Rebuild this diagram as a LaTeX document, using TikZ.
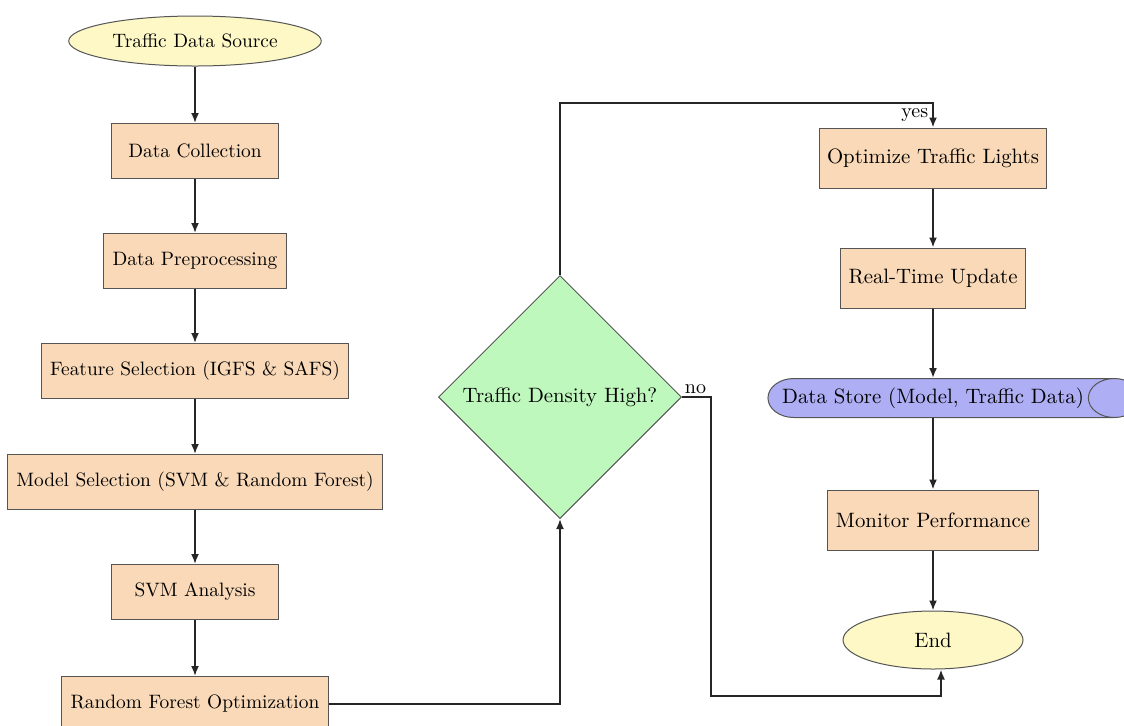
\documentclass[tikz,border=0pt]{standalone}
\usetikzlibrary{shapes.geometric,arrows.meta,positioning}
\definecolor{peach}{HTML}{F9D9B7}
\definecolor{cream}{HTML}{FDF8C6}
\definecolor{mint}{HTML}{BFF8BD}
\definecolor{lilac}{HTML}{AEAEF4}
\definecolor{edge}{HTML}{555555}
\tikzset{
  stepbox/.style={rectangle,fill=peach,draw=edge,line width=0.5pt,inner xsep=4.5pt,minimum width=83.5pt,minimum height=27.5pt,font=\fontsize{9.7}{11.5}\selectfont},
  actbox/.style={rectangle,fill=peach,draw=edge,line width=0.5pt,inner xsep=4pt,minimum height=30pt,font=\fontsize{10.4}{12}\selectfont},
  term/.style={ellipse,fill=cream,draw=edge,line width=0.5pt},
  decide/.style={diamond,aspect=1,fill=mint,draw=edge,line width=0.5pt,inner sep=0pt,minimum width=121.5pt,minimum height=121.5pt,font=\fontsize{10.4}{12}\selectfont},
  store/.style={cylinder,fill=lilac,draw=edge,line width=0.5pt,shape aspect=1.8,minimum width=19.5pt,minimum height=180pt,inner sep=2pt,font=\fontsize{10.4}{12}\selectfont},
  arr/.style={-{Latex[length=5pt,width=4pt]},line width=0.9pt,draw=black!85}
}
\begin{document}
\begin{tikzpicture}[x=0.5pt,y=-0.5pt]
\useasboundingbox (0,0) rectangle (1124,725);
% left column
\node[term,minimum width=124pt,minimum height=25pt,font=\fontsize{9.7}{11.5}\selectfont] (src) at (195,41) {Traffic Data Source};
\node[stepbox] (collect) at (195,151) {Data Collection};
\node[stepbox] (prep) at (195,261) {Data Preprocessing};
\node[stepbox] (feat) at (195,371) {Feature Selection (IGFS \& SAFS)};
\node[stepbox] (model) at (195,482) {Model Selection (SVM \& Random Forest)};
\node[stepbox] (svm) at (195,592) {SVM Analysis};
\node[stepbox] (rf) at (195,704) {Random Forest Optimization};
% decision
\node[decide] (dens) at (560,397) {Traffic Density High?};
% right column
\node[actbox] (opt) at (933,158) {Optimize Traffic Lights};
\node[actbox] (upd) at (933,278) {Real-Time Update};
\node[store] (db) at (933,398) {Data Store (Model, Traffic Data)};
\node[actbox] (mon) at (933,520) {Monitor Performance};
\node[term,minimum width=90pt,minimum height=29pt,font=\fontsize{10.4}{12}\selectfont] (end) at (933,640) {End};

\foreach \a/\b in {src/collect,collect/prep,prep/feat,feat/model,model/svm,svm/rf,opt/upd,upd/db,db/mon,mon/end}
  \draw[arr] (\a) -- (\b);

\draw[arr] (rf.east) -| (dens.south);
\draw[arr] (dens.north) -- ++(0,-172) -| (opt.north) node[near end,left,inner sep=2pt]{yes};
\draw[arr] (dens.east) node[anchor=south west,inner sep=1pt]{no} -- ++(29,0) -- ++(0,299) -| ([xshift=4pt]end.south);
\end{tikzpicture}
\end{document}
